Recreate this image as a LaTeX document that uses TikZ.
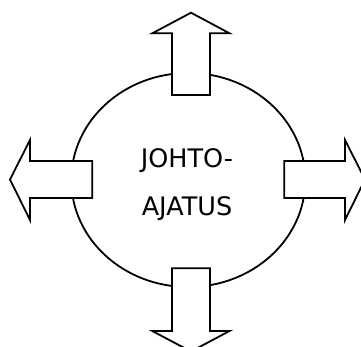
\documentclass[tikz,border=0pt]{standalone}
\usepackage{fontspec}
\setmainfont{DejaVu Sans}
\usetikzlibrary{shapes.geometric}
\tikzset{
  outline/.style={draw=black, line width=1.8pt, line join=miter},
  blockarrow/.style={outline, fill=white},
  label/.style={anchor=base, inner sep=0pt, font=\fontsize{25.5}{30}\selectfont}
}
\begin{document}
\begin{tikzpicture}[x=1pt,y=-1pt]
\useasboundingbox (0,0) rectangle (361,347);
\node[outline, ellipse, minimum width=234pt, minimum height=214pt, inner sep=0pt] (c) at (188.3,180) {};
\node[label] (t1) at (187,167.7) {JOHTO-};
\node[label] (t2) at (187,216) {AJATUS};
% up arrow
\draw[blockarrow] (172,95) -- (172,33.3) -- (152.3,33.3) -- (191,12.7) -- (229.5,33.3) -- (210,33.3) -- (210,95) -- cycle;
% down arrow
\draw[blockarrow] (172,268.3) -- (172,331) -- (152.3,331) -- (191,351.5) -- (229.5,331) -- (210,331) -- (210,268.3) -- cycle;
% left arrow
\draw[blockarrow] (92.3,161) -- (30,161) -- (30,140) -- (10,179.5) -- (30,220) -- (30,198) -- (92.3,198) -- cycle;
% right arrow
\draw[blockarrow] (284.3,161) -- (345,161) -- (345,140) -- (365,179.5) -- (345,220) -- (345,198) -- (284.3,198) -- cycle;
\end{tikzpicture}
\end{document}
